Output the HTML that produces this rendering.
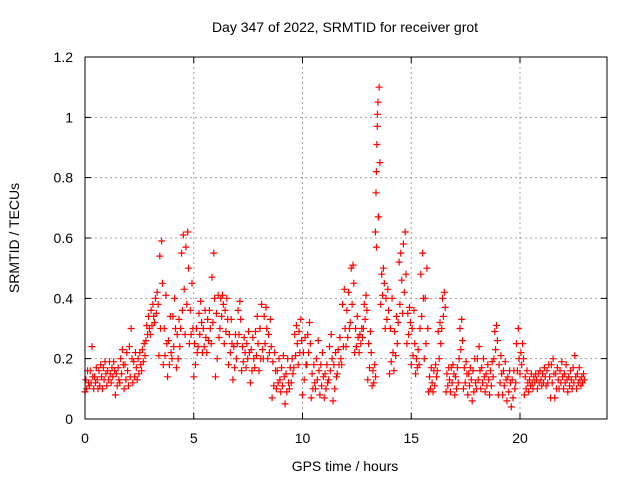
<!DOCTYPE html>
<html><head><meta charset="utf-8"><style>
html,body{margin:0;padding:0;background:#fff;}
svg{display:block;font-family:"Liberation Sans",sans-serif;}
</style></head><body>
<svg id="chart" width="640" height="480" viewBox="0 0 640 480" xmlns="http://www.w3.org/2000/svg">
<rect width="640" height="480" fill="#fff"/>
<text x="345" y="32" font-size="14" text-anchor="middle" fill="#000">Day 347 of 2022, SRMTID for receiver grot</text>
<text transform="translate(19,238) rotate(-90)" font-size="14" text-anchor="middle" fill="#000">SRMTID / TECUs</text>
<text x="345" y="471" font-size="14" text-anchor="middle" fill="#000">GPS time / hours</text>
<g id="grid"></g><g id="marks"></g><g id="axes"></g>
</svg>
<script>
const binTimes=[0.0,0.2,0.4,0.6,0.8,1.0,1.2,1.4,1.6,1.8,2.0,2.2,2.4,2.6,2.8,3.0,3.2,3.4,3.6,3.8,4.0,4.2,4.4,4.6,4.8,5.0,5.2,5.4,5.6,5.8,6.0,6.2,6.4,6.6,6.8,7.0,7.2,7.4,7.6,7.8,8.0,8.2,8.4,8.6,8.8,9.0,9.2,9.4,9.6,9.8,10.0,10.2,10.4,10.6,10.8,11.0,11.2,11.4,11.6,11.8,12.0,12.2,12.4,12.6,12.8,13.0,13.2,13.4,13.6,13.8,14.0,14.2,14.4,14.6,14.8,15.0,15.2,15.4,15.6,15.8,16.0,16.2,16.4,16.6,16.8,17.0,17.2,17.4,17.6,17.8,18.0,18.2,18.4,18.6,18.8,19.0,19.2,19.4,19.6,19.8,20.0,20.2,20.4,20.6,20.8,21.0,21.2,21.4,21.6,21.8,22.0,22.2,22.4,22.6,22.8];
const lowValues=[0.09,0.11,0.10,0.10,0.10,0.11,0.12,0.08,0.12,0.10,0.11,0.12,0.13,0.16,0.26,0.28,0.32,0.21,0.18,0.14,0.20,0.17,0.30,0.28,0.25,0.14,0.24,0.22,0.22,0.25,0.14,0.30,0.25,0.18,0.13,0.25,0.16,0.17,0.12,0.17,0.16,0.20,0.20,0.07,0.10,0.09,0.05,0.10,0.17,0.18,0.08,0.18,0.07,0.10,0.08,0.07,0.13,0.06,0.15,0.18,0.24,0.32,0.22,0.22,0.30,0.13,0.11,0.57,0.38,0.30,0.15,0.16,0.32,0.35,0.25,0.18,0.15,0.30,0.20,0.09,0.09,0.16,0.30,0.09,0.09,0.08,0.20,0.10,0.08,0.06,0.10,0.10,0.09,0.08,0.20,0.08,0.08,0.06,0.04,0.12,0.15,0.08,0.09,0.10,0.10,0.11,0.11,0.07,0.07,0.10,0.10,0.09,0.10,0.10,0.11];
const q1Values=[0.10,0.12,0.12,0.11,0.13,0.13,0.14,0.11,0.15,0.13,0.14,0.14,0.15,0.19,0.28,0.31,0.35,0.30,0.21,0.18,0.24,0.20,0.36,0.38,0.28,0.18,0.28,0.24,0.26,0.32,0.20,0.34,0.29,0.22,0.17,0.28,0.19,0.20,0.16,0.21,0.20,0.25,0.22,0.11,0.12,0.11,0.09,0.12,0.21,0.22,0.13,0.22,0.10,0.13,0.11,0.10,0.16,0.10,0.18,0.24,0.27,0.38,0.24,0.25,0.33,0.17,0.12,0.67,0.41,0.33,0.19,0.21,0.38,0.42,0.28,0.21,0.17,0.34,0.25,0.10,0.11,0.20,0.34,0.11,0.12,0.10,0.23,0.12,0.11,0.09,0.13,0.12,0.11,0.11,0.23,0.12,0.11,0.09,0.07,0.16,0.18,0.10,0.11,0.12,0.12,0.12,0.12,0.12,0.10,0.12,0.12,0.11,0.12,0.12,0.12];
const midValues=[0.12,0.14,0.13,0.14,0.15,0.15,0.16,0.13,0.18,0.16,0.20,0.17,0.18,0.21,0.30,0.34,0.38,0.45,0.25,0.22,0.30,0.24,0.43,0.50,0.30,0.22,0.32,0.27,0.30,0.40,0.27,0.38,0.33,0.25,0.20,0.33,0.22,0.22,0.20,0.25,0.23,0.30,0.24,0.16,0.13,0.14,0.12,0.15,0.25,0.26,0.18,0.25,0.12,0.16,0.14,0.12,0.20,0.14,0.20,0.30,0.30,0.45,0.27,0.27,0.36,0.22,0.14,0.85,0.45,0.36,0.22,0.25,0.46,0.48,0.32,0.25,0.18,0.40,0.30,0.12,0.14,0.25,0.37,0.13,0.15,0.12,0.26,0.15,0.13,0.12,0.16,0.14,0.13,0.14,0.26,0.15,0.13,0.12,0.10,0.20,0.20,0.12,0.12,0.13,0.13,0.14,0.14,0.15,0.13,0.14,0.13,0.13,0.14,0.13,0.13];
const extraValues=[0.13,0.16,0.14,0.16,0.17,0.16,0.17,0.15,0.20,0.18,0.24,0.19,0.20,0.23,0.31,0.36,0.40,0.54,0.30,0.26,0.34,0.28,0.55,0.57,0.36,0.25,0.35,0.30,0.33,0.47,0.35,0.40,0.36,0.28,0.24,0.36,0.24,0.25,0.23,0.29,0.30,0.34,0.28,0.19,0.16,0.17,0.15,0.17,0.28,0.29,0.22,0.28,0.15,0.20,0.18,0.15,0.24,0.18,0.23,0.38,0.36,0.50,0.30,0.28,0.38,0.25,0.16,0.97,0.48,0.40,0.30,0.29,0.52,0.58,0.35,0.30,0.20,0.48,0.40,0.14,0.16,0.29,0.40,0.15,0.17,0.14,0.30,0.17,0.15,0.16,0.20,0.17,0.15,0.16,0.29,0.18,0.16,0.14,0.13,0.25,0.22,0.14,0.13,0.14,0.15,0.15,0.16,0.18,0.15,0.16,0.15,0.14,0.17,0.15,0.14];
const highValues=[0.16,0.24,0.17,0.18,0.19,0.19,0.19,0.17,0.23,0.22,0.30,0.22,0.22,0.25,0.34,0.38,0.42,0.59,0.41,0.34,0.40,0.33,0.61,0.62,0.45,0.30,0.39,0.36,0.36,0.55,0.41,0.41,0.40,0.33,0.28,0.39,0.27,0.29,0.27,0.34,0.38,0.37,0.33,0.22,0.20,0.21,0.20,0.20,0.31,0.33,0.27,0.32,0.18,0.26,0.22,0.18,0.28,0.22,0.27,0.43,0.42,0.51,0.34,0.30,0.41,0.29,0.18,1.10,0.50,0.43,0.40,0.34,0.55,0.62,0.37,0.36,0.23,0.55,0.50,0.17,0.18,0.32,0.42,0.17,0.18,0.17,0.33,0.19,0.17,0.20,0.24,0.20,0.18,0.19,0.31,0.21,0.19,0.16,0.16,0.30,0.25,0.16,0.15,0.15,0.16,0.17,0.18,0.20,0.17,0.19,0.18,0.16,0.21,0.17,0.15];
const spikeTimes=[13.35,13.38,13.40,13.42,13.45,13.47,13.50];
const spikeValues=[0.62,0.75,0.82,0.91,1.01,1.05,0.67];
const xTicks=[0,5,10,15,20];
const yTicks=[0,0.2,0.4,0.6,0.8,1,1.2];
const yTickLabels=["0","0.2","0.4","0.6","0.8","1","1.2"];

const L=85,R=607,T=57,B=419,XMAX=24,YMAX=1.2;
const xs=v=>L+v/XMAX*(R-L);
const ys=v=>B-v/YMAX*(B-T);
const NS="http://www.w3.org/2000/svg";
function mk(tag,attrs,parent){const e=document.createElementNS(NS,tag);for(const k in attrs)e.setAttribute(k,attrs[k]);parent.appendChild(e);return e;}
const grid=document.getElementById('grid'),marks=document.getElementById('marks'),axes=document.getElementById('axes');
xTicks.forEach(t=>{
  if(t>0){const g=mk('line',{x1:xs(t),x2:xs(t),y1:T,y2:B,stroke:'#a0a0a0','stroke-dasharray':'2,3','stroke-width':1},grid);
  
  }
  const tk=mk('path',{d:`M${xs(t)},${B}v-6M${xs(t)},${T}v6`,stroke:'#000'},axes);
  
  
  const lb=mk('text',{x:xs(t),y:B+24,'font-size':14,'text-anchor':'middle',fill:'#000'},axes);lb.textContent=t;
  
  
});
yTicks.forEach((t,i)=>{
  if(t>0&&t<YMAX){const g=mk('line',{x1:L,x2:R,y1:ys(t),y2:ys(t),stroke:'#a0a0a0','stroke-dasharray':'2,3','stroke-width':1},grid);
  
  }
  const tk=mk('path',{d:`M${L},${ys(t)}h6M${R},${ys(t)}h-6`,stroke:'#000'},axes);
  
  
  const lb=mk('text',{x:L-12,y:ys(t)+5,'font-size':14,'text-anchor':'end',fill:'#000'},axes);lb.textContent=yTickLabels[i];
  
  
});
const frame=mk('rect',{x:L,y:T,width:R-L,height:B-T,fill:'none',stroke:'#000','stroke-width':1},axes);


let d='';
function plus(x,y){d+=`M${(x-3.5).toFixed(1)},${y.toFixed(1)}h7M${x.toFixed(1)},${(y-3.5).toFixed(1)}v7`;}
const series=[lowValues,extraValues,q1Values,highValues,midValues];
binTimes.forEach((t,i)=>{
  series.forEach((arr,k)=>{
    plus(xs(t+k*0.04),ys(arr[i]));
  });
});
spikeTimes.forEach((t,i)=>plus(xs(t),ys(spikeValues[i])));
const pts=mk('path',{d:d,stroke:'#ff0000','stroke-width':1.2,fill:'none'},marks);


</script>
</body></html>
